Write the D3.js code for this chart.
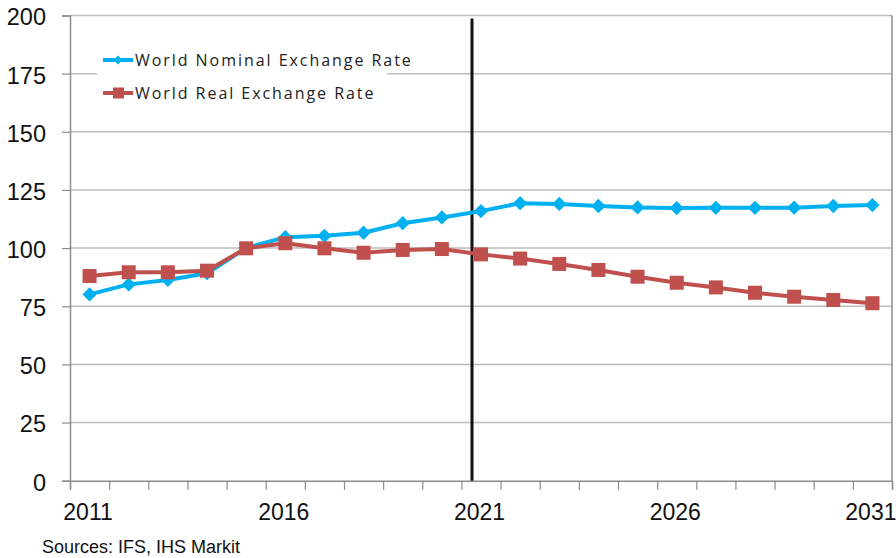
<!DOCTYPE html>
<html>
<head>
<meta charset="utf-8">
<script src="https://cdn.jsdelivr.net/npm/d3@7"></script>
<style>
  html, body { margin: 0; padding: 0; background: #fff; }
  svg { display: block; }
</style>
</head>
<body>
<div id="container"></div>
<script>
// chart data
const years = [2011, 2012, 2013, 2014, 2015, 2016, 2017, 2018, 2019, 2020,
               2021, 2022, 2023, 2024, 2025, 2026, 2027, 2028, 2029, 2030, 2031];
const nominal = [80.1, 84.4, 86.3, 89.2, 100, 104.7, 105.3, 106.6, 110.7, 113.2,
                 115.9, 119.3, 119.0, 118.1, 117.5, 117.2, 117.3, 117.3, 117.4, 118.1, 118.5];
const real = [88.0, 89.6, 89.6, 90.3, 99.9, 102.1, 99.9, 98.0, 99.2, 99.6,
              97.3, 95.5, 93.2, 90.6, 87.7, 85.1, 83.1, 80.8, 79.1, 77.7, 76.3];
const yTicks = [0, 25, 50, 75, 100, 125, 150, 175, 200];
const labelYears = [2011, 2016, 2021, 2026, 2031];
const seriesNames = ["World Nominal Exchange Rate", "World Real Exchange Rate"];
const dividerYear = 2020.77; // forecast marker
const source = "Sources: IFS, IHS Markit";

const WIDTH = 896;
const HEIGHT = 558;
const margin = { left: 70, right: 4, top: 15.5, bottom: 77.3 };
const BLUE = "#00b0f0";
const RED = "#c0504d";

const svg = d3.select("#container")
    .append("svg")
    .attr("width", WIDTH)
    .attr("height", HEIGHT);

const x = d3.scaleLinear()
    .domain([years[0] - 0.5, years[years.length - 1] + 0.5])
    .range([margin.left, WIDTH - margin.right]);
const y = d3.scaleLinear()
    .domain([0, 200])
    .range([HEIGHT - margin.bottom, margin.top]);

// gridlines
svg.append("g")
    .selectAll("line")
    .data(yTicks.filter((d) => d > 0))
    .join("line")
    .attr("x1", x.range()[0])
    .attr("x2", x.range()[1])
    .attr("y1", (d) => y(d))
    .attr("y2", (d) => y(d))
    .attr("stroke", "#bdbdbd")
    .attr("stroke-width", 1.5);

// right border
svg.append("line")
    .attr("x1", x.range()[1])
    .attr("x2", x.range()[1])
    .attr("y1", y(200))
    .attr("y2", y(0))
    .attr("stroke", "#8c8c8c")
    .attr("stroke-width", 1.5);

// y axis
const yAxis = svg.append("g")
    .attr("transform", `translate(${margin.left},0)`)
    .call(d3.axisLeft(y).tickValues(yTicks).tickSize(8).tickPadding(9));
yAxis.select(".domain").attr("stroke", "#8c8c8c").attr("stroke-width", 1.5);
yAxis.selectAll(".tick line").attr("stroke", "#8c8c8c").attr("stroke-width", 1.2);
yAxis.selectAll(".tick text")
    .attr("font-family", "Liberation Sans, Arial, sans-serif")
    .attr("font-size", 23.5)
    .attr("fill", "#111")
    .attr("dx", -7)
    .attr("dy", "0.4em");

// x axis: tick marks on category boundaries, labels every 5 years
const boundaries = d3.range(years.length + 1).map((i) => years[0] - 0.5 + i);
const xAxis = svg.append("g")
    .attr("transform", `translate(0,${y(0)})`)
    .call(d3.axisBottom(x).tickValues(boundaries).tickSize(9).tickFormat(""));
xAxis.select(".domain").attr("stroke", "#8c8c8c").attr("stroke-width", 1.5);
xAxis.selectAll(".tick line").attr("stroke", "#8c8c8c").attr("stroke-width", 1.2);

svg.append("g")
    .selectAll("text")
    .data(labelYears)
    .join("text")
    .attr("x", (d) => x(d) - 1.5)
    .attr("y", y(0) + 39)
    .attr("text-anchor", "middle")
    .attr("font-family", "Liberation Sans, Arial, sans-serif")
    .attr("font-size", 23)
    .attr("fill", "#111")
    .text((d) => d);

// legend box (covers gridlines behind it)
const legend = svg.append("g");
legend.append("rect")
    .attr("x", 97)
    .attr("y", 38)
    .attr("width", 290)
    .attr("height", 72)
    .attr("fill", "#fff");

// divider line
svg.append("line")
    .attr("x1", x(dividerYear))
    .attr("x2", x(dividerYear))
    .attr("y1", y(200) + 3)
    .attr("y2", y(0))
    .attr("stroke", "#111")
    .attr("stroke-width", 3);

const line = d3.line()
    .x((d, i) => x(years[i]))
    .y((d) => y(d));

const diamond = d3.symbol().type(d3.symbolDiamond2).size(130);

// nominal series
svg.append("path")
    .datum(nominal)
    .attr("d", line)
    .attr("fill", "none")
    .attr("stroke", BLUE)
    .attr("stroke-width", 4)
    .attr("stroke-linejoin", "round");
svg.append("g")
    .selectAll("path")
    .data(nominal)
    .join("path")
    .attr("transform", (d, i) => `translate(${x(years[i])},${y(d)})`)
    .attr("d", diamond)
    .attr("fill", BLUE);

// real series
svg.append("path")
    .datum(real)
    .attr("d", line)
    .attr("fill", "none")
    .attr("stroke", RED)
    .attr("stroke-width", 4)
    .attr("stroke-linejoin", "round");
svg.append("g")
    .selectAll("rect")
    .data(real)
    .join("rect")
    .attr("x", (d, i) => x(years[i]) - 7)
    .attr("y", (d) => y(d) - 7)
    .attr("width", 14)
    .attr("height", 14)
    .attr("fill", RED);

// legend entries
const legendRows = [
    { name: seriesNames[0], color: BLUE, cy: 60 },
    { name: seriesNames[1], color: RED, cy: 93 },
];
legendRows.forEach((r, i) => {
    legend.append("line")
        .attr("x1", 103)
        .attr("x2", 133)
        .attr("y1", r.cy)
        .attr("y2", r.cy)
        .attr("stroke", r.color)
        .attr("stroke-width", 4);
    if (i === 0) {
        legend.append("path")
            .attr("transform", `translate(118,${r.cy})`)
            .attr("d", d3.symbol().type(d3.symbolDiamond2).size(50))
            .attr("fill", r.color);
    } else {
        legend.append("rect")
            .attr("x", 113)
            .attr("y", r.cy - 5.5)
            .attr("width", 11)
            .attr("height", 11)
            .attr("fill", r.color);
    }
    legend.append("text")
        .attr("x", 135)
        .attr("y", r.cy)
        .attr("dy", "0.35em")
        .attr("font-family", "Open Sans, sans-serif")
        .attr("font-size", 16)
        .attr("letter-spacing", 1.95)
        .attr("fill", "#222")
        .text(r.name);
});

// source note
svg.append("text")
    .attr("x", 42)
    .attr("y", 553)
    .attr("font-family", "Liberation Sans, Arial, sans-serif")
    .attr("font-size", 18)
    .attr("fill", "#111")
    .text(source);
</script>
</body>
</html>
